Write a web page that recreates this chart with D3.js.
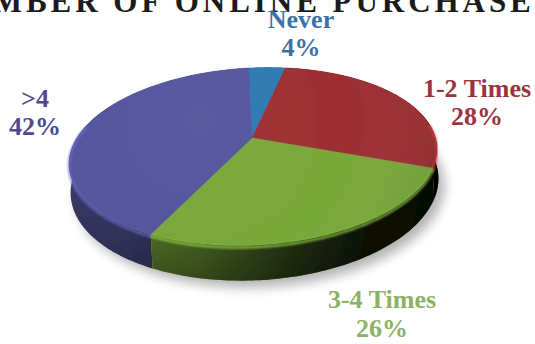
<!DOCTYPE html>
<html>
<head>
<meta charset="utf-8">
<script src="https://cdn.jsdelivr.net/npm/d3@7"></script>
<style>
  html, body { margin: 0; padding: 0; background: #fff; }
  svg { display: block; }
</style>
</head>
<body>
<script>
// Survey answers: how often people have bought something online
const categories = ["Never", "1-2 Times", "3-4 Times", ">4"];
const shares = [4, 28, 26, 42];
const topColors = ["#2f79b3", "#9d2e33", "#79a83a", "#55559d"];
const labelColors = ["#3b72a6", "#9b3441", "#8db264", "#4d4a8e"];
const titleText = "NUMBER OF ONLINE PURCHASES";

const W = 535, H = 344;
const svg = d3.select("body").append("svg")
  .attr("width", W).attr("height", H)
  .attr("viewBox", `0 0 ${W} ${H}`);

const defs = svg.append("defs");

// --- disc geometry: a tilted circle seen in perspective -------------------
const cx = 252, cy = 138;          // apex of the slices on the top face
const rx = 180, ry = 84.6;         // radii of the disc before perspective
const persp = 0.209;               // how much nearer points grow
const depth = 28;                  // thickness of the disc
const tilt = -3 * Math.PI / 180;   // slight roll of the whole disc

function project(a, drop) {
  const u = Math.sin(a), v = -Math.cos(a);
  const s = 1 / (1 - persp * v);
  const lx = rx * u * s, ly = (ry * v + depth * drop) * s;
  return [cx + lx * Math.cos(tilt) - ly * Math.sin(tilt),
          cy + lx * Math.sin(tilt) + ly * Math.cos(tilt)];
}
function arcPoints(a0, a1, drop) {
  const n = Math.max(2, Math.ceil((a1 - a0) / (Math.PI / 180)));
  return d3.range(n + 1).map(i => project(a0 + (a1 - a0) * i / n, drop));
}

const pie = d3.pie().sort(null).value(d => d)
  .startAngle(0).endAngle(2 * Math.PI);
const slices = pie(shares).map((d, i) => ({ ...d, i }));
const line = d3.line();

// --- filters & gradients ---------------------------------------------------
defs.append("filter").attr("id", "shadowBlur")
  .attr("x", "-20%").attr("y", "-20%").attr("width", "140%").attr("height", "140%")
  .append("feGaussianBlur").attr("stdDeviation", 6);
defs.append("filter").attr("id", "rimBlur")
  .append("feGaussianBlur").attr("stdDeviation", 1.1);
defs.append("filter").attr("id", "soft")
  .append("feGaussianBlur").attr("stdDeviation", 0.45);

const sideShade = defs.append("linearGradient").attr("id", "sideShade")
  .attr("gradientUnits", "userSpaceOnUse")
  .attr("x1", 120).attr("y1", 0).attr("x2", 435).attr("y2", 0);
[[0, 0.05], [0.25, 0.2], [0.55, 0.6], [0.8, 0.88], [1, 0.95]].forEach(([o, a]) =>
  sideShade.append("stop").attr("offset", o).attr("stop-color", "#000").attr("stop-opacity", a));

const sideVert = defs.append("linearGradient").attr("id", "sideVert")
  .attr("x1", 0).attr("y1", 0).attr("x2", 0).attr("y2", 1);
[[0, 0.0], [0.6, 0.15], [1, 0.35]].forEach(([o, a]) =>
  sideVert.append("stop").attr("offset", o).attr("stop-color", "#000").attr("stop-opacity", a));

const topShade = defs.append("radialGradient").attr("id", "topShade")
  .attr("gradientUnits", "userSpaceOnUse")
  .attr("cx", 200).attr("cy", 120).attr("r", 260);
[[0, "#fff", 0.03], [0.6, "#fff", 0.0], [1, "#000", 0.12]].forEach(([o, c, a]) =>
  topShade.append("stop").attr("offset", o).attr("stop-color", c).attr("stop-opacity", a));

// --- title (runs off the top edge) ---------------------------------------
svg.append("text")
  .attr("x", -60).attr("y", 12)
  .attr("textLength", 612).attr("lengthAdjust", "spacing")
  .attr("font-family", "'Liberation Serif', 'DejaVu Serif', serif")
  .attr("font-weight", "bold").attr("font-size", 31)
  .attr("fill", "#1b1b1b")
  .text(titleText);

// --- shadow under the disc -------------------------------------------------
const pieG = svg.append("g").attr("filter", "url(#soft)");
pieG.append("path")
  .attr("d", line(arcPoints(0, 2 * Math.PI, 1.05)) + "Z")
  .attr("transform", "translate(6,5)")
  .attr("fill", "#000").attr("opacity", 0.3)
  .attr("filter", "url(#shadowBlur)");

// --- side walls, back to front --------------------------------------------
const sideOrder = slices.slice().sort((a, b) =>
  (-Math.cos((a.startAngle + a.endAngle) / 2)) - (-Math.cos((b.startAngle + b.endAngle) / 2)));

sideOrder.forEach(d => {
  const topEdge = arcPoints(d.startAngle, d.endAngle, 0);
  const botEdge = arcPoints(d.startAngle, d.endAngle, 1).reverse();
  const p = line(topEdge.concat(botEdge)) + "Z";
  pieG.append("path").attr("d", p)
    .attr("fill", d3.color(topColors[d.i]).darker(0.55));
  pieG.append("path").attr("d", p).attr("fill", "url(#sideVert)");
  pieG.append("path").attr("d", p).attr("fill", "url(#sideShade)");
});

// --- top faces --------------------------------------------------------------
slices.forEach(d => {
  const pts = [[cx, cy]].concat(arcPoints(d.startAngle, d.endAngle, 0));
  pieG.append("path")
    .attr("d", line(pts) + "Z")
    .attr("fill", topColors[d.i])
    .attr("stroke", topColors[d.i]).attr("stroke-width", 0.6);
});
pieG.append("path")
  .attr("d", line(arcPoints(0, 2 * Math.PI, 0)) + "Z")
  .attr("fill", "url(#topShade)");

// rim highlight along the front edge
slices.forEach(d => {
  const a0 = Math.max(d.startAngle, Math.PI / 2 - 0.05);
  const a1 = Math.min(d.endAngle, 3 * Math.PI / 2 + 0.25);
  if (a1 <= a0) return;
  pieG.append("path")
    .attr("d", line(arcPoints(a0, a1, 0.06)))
    .attr("fill", "none")
    .attr("stroke", d3.color(topColors[d.i]).brighter(0.7))
    .attr("stroke-width", 2.6)
    .attr("stroke-linecap", "round")
    .attr("opacity", 0.75)
    .attr("filter", "url(#rimBlur)");
});

// --- labels -----------------------------------------------------------------
const labelSpots = [
  { x: 301, y1: 28, y2: 56 },
  { x: 477, y1: 97, y2: 125 },
  { x: 382, y1: 308, y2: 337 },
  { x: 35,  y1: 107, y2: 135 }
];
const labels = svg.append("g")
  .attr("font-family", "'Liberation Serif', 'DejaVu Serif', serif")
  .attr("font-weight", "bold").attr("font-size", 26)
  .attr("text-anchor", "middle");
slices.forEach(d => {
  const s = labelSpots[d.i];
  labels.append("text").attr("x", s.x).attr("y", s.y1)
    .attr("fill", labelColors[d.i]).text(categories[d.i]);
  labels.append("text").attr("x", s.x).attr("y", s.y2)
    .attr("fill", labelColors[d.i]).text(`${d.data}%`);
});
</script>
</body>
</html>
